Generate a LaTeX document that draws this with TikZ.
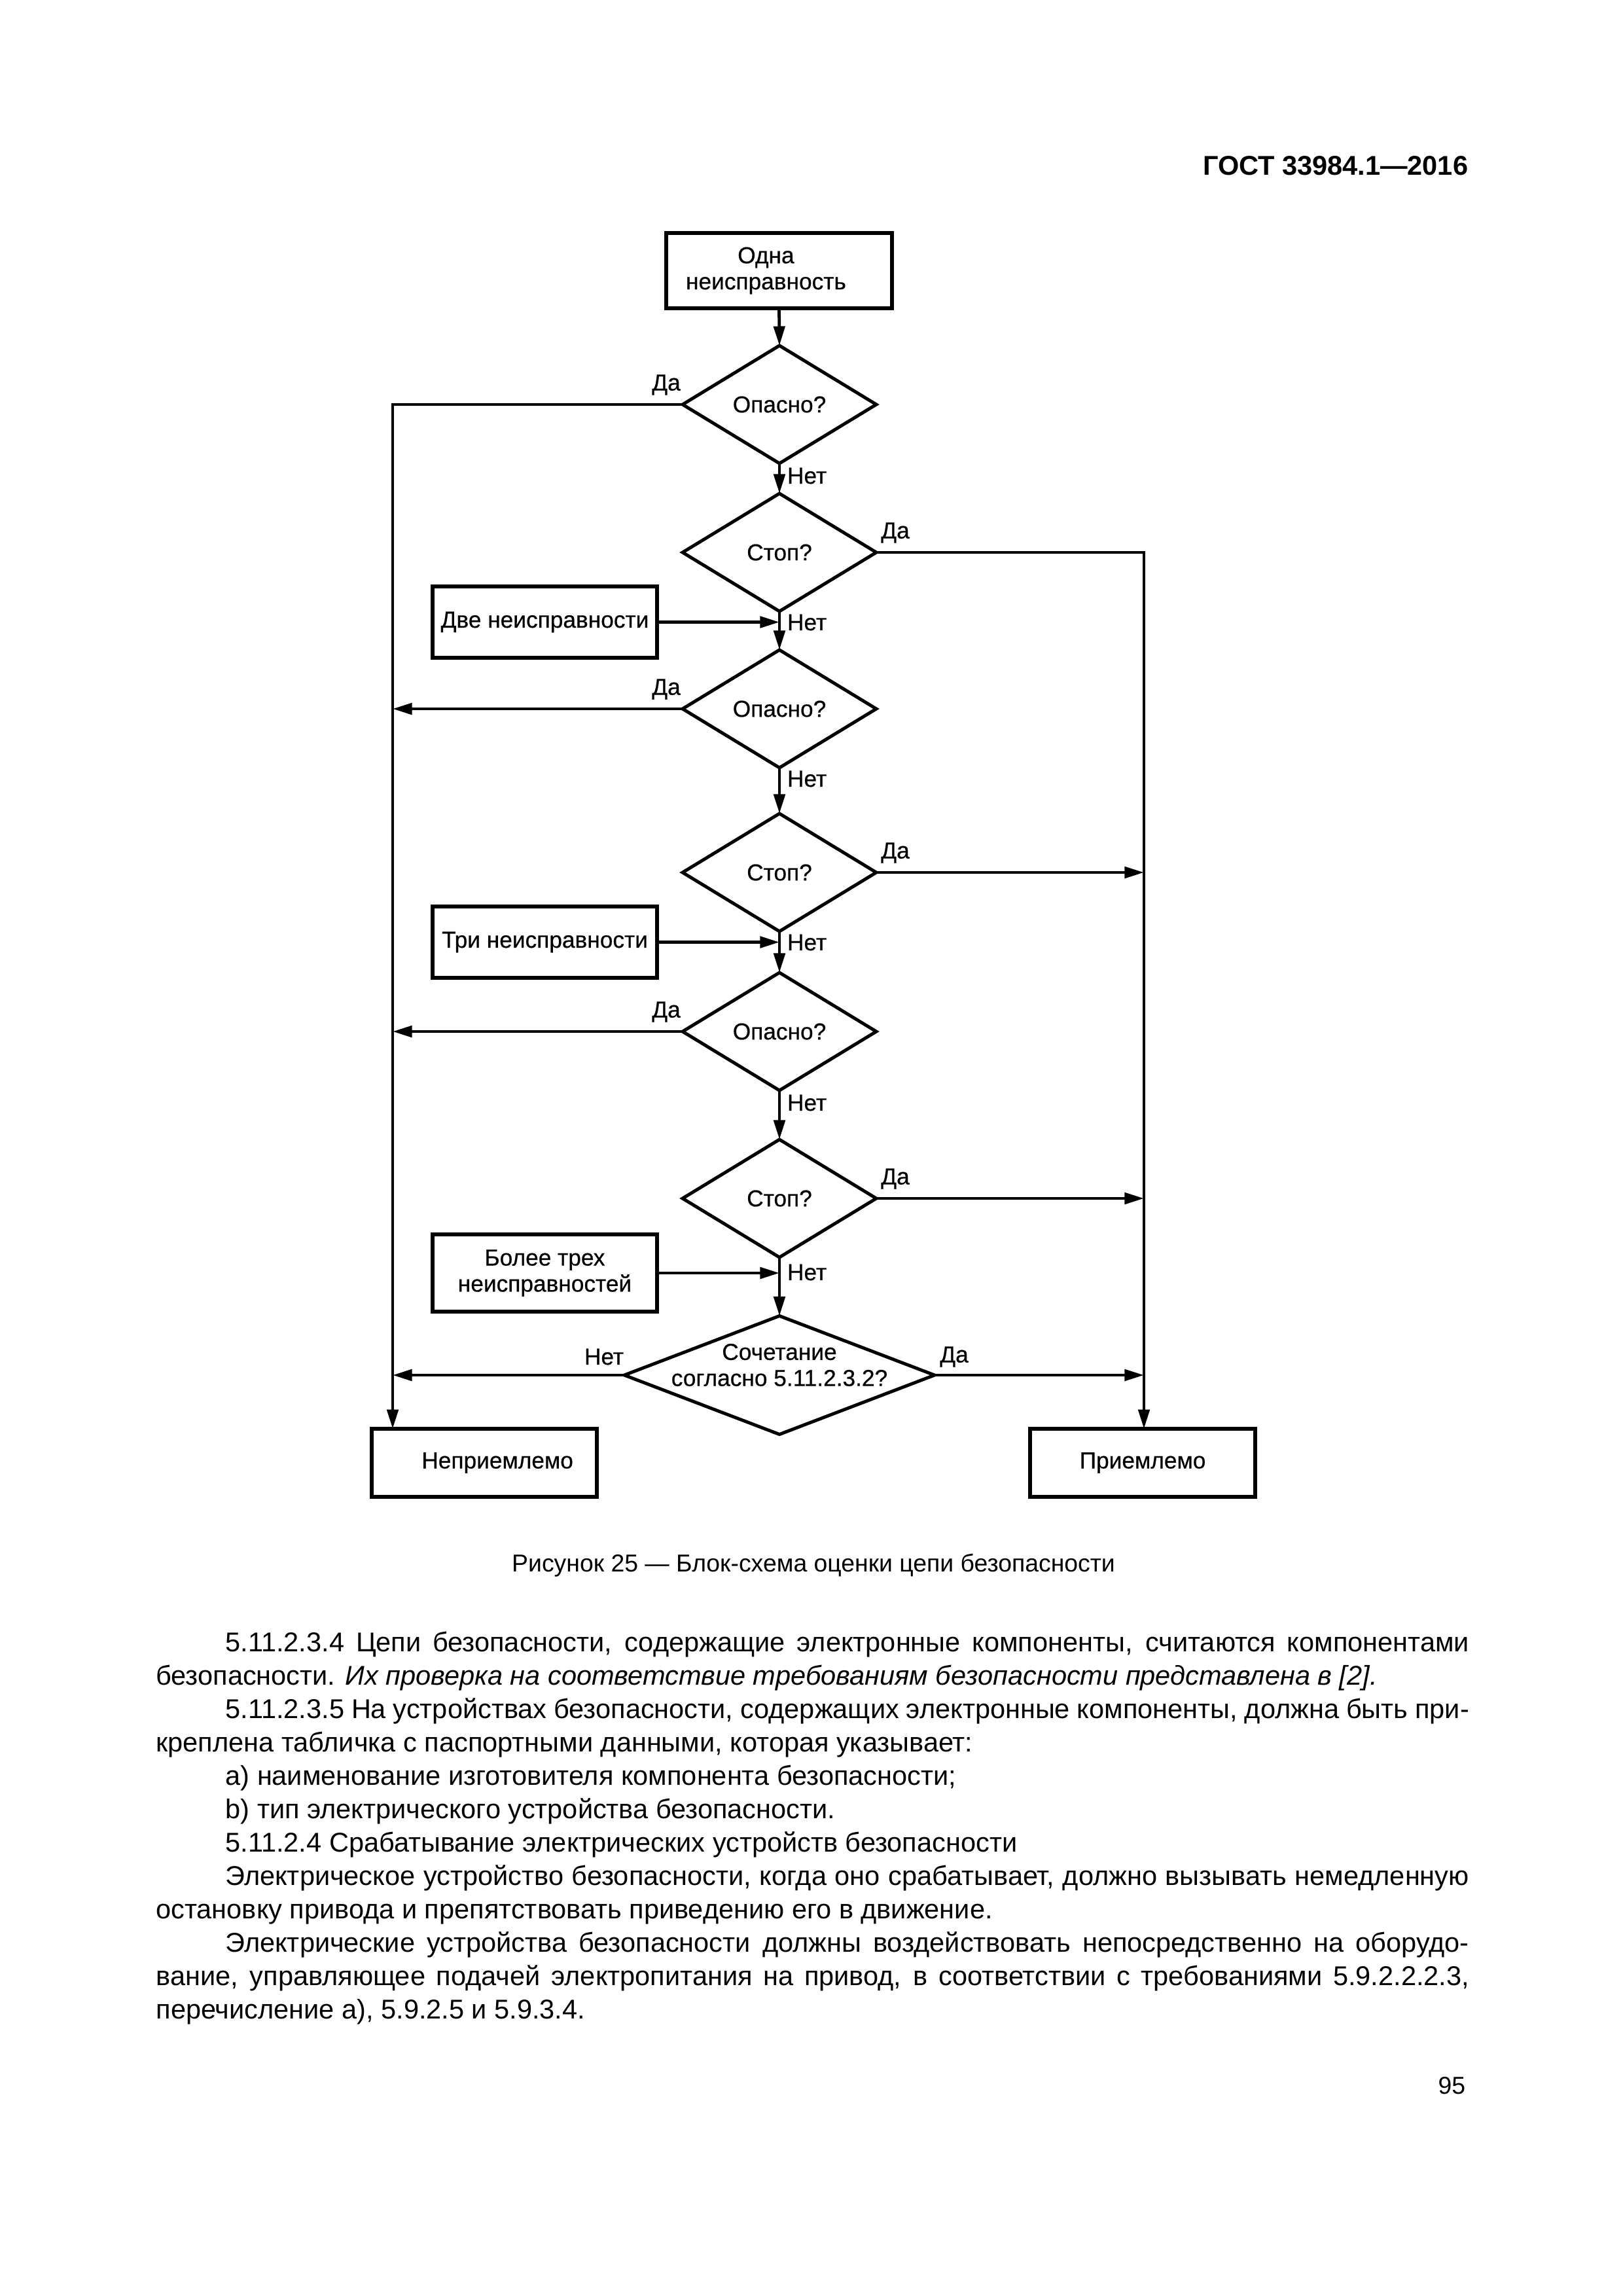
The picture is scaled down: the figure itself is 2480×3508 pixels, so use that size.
\documentclass[tikz,border=0pt]{standalone}
\usepackage{fontspec}
\setmainfont{Liberation Sans}
\newfontfamily\dfam[FakeBold=0.5]{Liberation Sans}
\usetikzlibrary{shapes.geometric,arrows.meta}
\def\pxu{0.0846667mm}
\tikzset{
 dfont/.style={font=\dfam\fontsize{8.5}{9.6}\selectfont},
 blk/.style={draw,line width=1.3pt,rectangle,inner sep=0pt,outer sep=0pt,align=center,dfont},
 dia/.style={draw,diamond,line width=1.2pt,inner sep=0pt,outer sep=0pt,minimum width={296*\pxu},minimum height={180*\pxu}},
 conn/.style={line width=1.15pt},
 arrw/.style={conn,-{Triangle[length=2.5mm,width=1.45mm]}},
 lbl/.style={dfont,inner sep=0pt,outer sep=0pt},
 body/.style={font=\fontsize{10}{12}\selectfont,inner sep=0pt,outer sep=0pt,anchor=base west},
}
\newcommand{\fullj}[1]{\makebox[169.88mm][s]{#1}}
\newcommand{\indj}[1]{\makebox[160.90mm][s]{#1}}
\begin{document}
\begin{tikzpicture}[x=0.0846667mm,y=-0.0846667mm]
\path[use as bounding box,fill=white] (0,0) rectangle (2480,3508);

% header
\node[inner sep=0pt,anchor=base east,font=\fontsize{10}{12}\selectfont\bfseries] (hdr) at (2244,267) {ГОСТ 33984.1—2016};

% boxes
\node[blk,minimum width={345*\pxu},minimum height={115*\pxu}] (one) at (1190.5,413.5) {Одна\hspace*{3.4mm}\\неисправность\hspace*{3.4mm}};
\node[blk,minimum width={343*\pxu},minimum height={109*\pxu}] (b2) at (832.5,950.5) {Две неисправности};
\node[blk,minimum width={343*\pxu},minimum height={109*\pxu}] (b3) at (832.5,1439.5) {Три неисправности};
\node[blk,minimum width={343*\pxu},minimum height={118*\pxu}] (b4) at (832.5,1945) {Более трех\\неисправностей};
\node[blk,minimum width={344*\pxu},minimum height={104*\pxu}] (nep) at (740,2235) {\hspace*{3.4mm}Неприемлемо};
\node[blk,minimum width={344*\pxu},minimum height={104*\pxu}] (pri) at (1746,2235) {Приемлемо};

% diamonds
\node[dia] (d1) at (1191,618) {};
\node[dia] (d2) at (1191,844) {};
\node[dia] (d3) at (1191,1083) {};
\node[dia] (d4) at (1191,1333) {};
\node[dia] (d5) at (1191,1576) {};
\node[dia] (d6) at (1191,1831) {};
\node[dia,minimum width={474*\pxu},minimum height={181*\pxu}] (d7) at (1191,2101) {};

\node[lbl] (t1) at (d1) {Опасно?};
\node[lbl] (t2) at (d2) {Стоп?};
\node[lbl] (t3) at (d3) {Опасно?};
\node[lbl] (t4) at (d4) {Стоп?};
\node[lbl] (t5) at (d5) {Опасно?};
\node[lbl] (t6) at (d6) {Стоп?};
\node[lbl,align=center] (t7) at (1191,2085.5) {Сочетание\\согласно 5.11.2.3.2?};

% bus coordinates
\coordinate (L) at (600,618);
\coordinate (R) at (1748,844);

% connectors
\draw[arrw] (one.south) -- (d1.north);
\draw[arrw] (d1.south) -- (d2.north);
\draw[arrw] (d2.south) -- (d3.north);
\draw[arrw] (d3.south) -- (d4.north);
\draw[arrw] (d4.south) -- (d5.north);
\draw[arrw] (d5.south) -- (d6.north);
\draw[arrw] (d6.south) -- (d7.north);
\draw[arrw] (b2.east) -- (b2.east -| d2.south);
\draw[arrw] (b3.east) -- (b3.east -| d4.south);
\draw[arrw] (b4.east) -- (b4.east -| d6.south);
\draw[arrw] (d1.west) -- (L) -- (L |- nep.north);
\draw[arrw] (d3.west) -- (d3.west -| L);
\draw[arrw] (d5.west) -- (d5.west -| L);
\draw[arrw] (d7.west) -- (d7.west -| L);
\draw[arrw] (d2.east) -- (R) -- (R |- pri.north);
\draw[arrw] (d4.east) -- (d4.east -| R);
\draw[arrw] (d6.east) -- (d6.east -| R);
\draw[arrw] (d7.east) -- (d7.east -| R);

% branch labels
\node[lbl] (y1) at (1018,588) {Да};
\node[lbl] (y3) at (1018,1053) {Да};
\node[lbl] (y5) at (1018,1546) {Да};
\node[lbl] (y2) at (1368,814) {Да};
\node[lbl] (y4) at (1368,1303) {Да};
\node[lbl] (y6) at (1368,1801) {Да};
\node[lbl,anchor=west] (n1) at (1203,727) {Нет};
\node[lbl,anchor=west] (n2) at (1203,951) {Нет};
\node[lbl,anchor=west] (n3) at (1203,1190) {Нет};
\node[lbl,anchor=west] (n4) at (1203,1440) {Нет};
\node[lbl,anchor=west] (n5) at (1203,1685) {Нет};
\node[lbl,anchor=west] (n6) at (1203,1944) {Нет};
\node[lbl] (n7) at (923,2073) {Нет};
\node[lbl] (y7) at (1458,2073) {Да};

% caption
\node[inner sep=0pt,anchor=base,font=\fontsize{9}{11}\selectfont] (cap) at (1243,2401) {Рисунок 25 — Блок-схема оценки цепи безопасности};

% body text
\node[body] (l1) at (344.6,2523.0) {\indj{5.11.2.3.4 Цепи безопасности, содержащие электронные компоненты, считаются компонентами}};
\node[body] (l2) at (238.5,2574.1) {безопасности. \textit{Их проверка на соответствие требованиям безопасности представлена в [2].}};
\node[body] (l3) at (344.6,2625.1) {\indj{5.11.2.3.5 На устройствах безопасности, содержащих электронные компоненты, должна быть при-}};
\node[body] (l4) at (238.5,2676.2) {креплена табличка с паспортными данными, которая указывает:};
\node[body] (l5) at (344.6,2727.2) {a) наименование изготовителя компонента безопасности;};
\node[body] (l6) at (344.6,2778.3) {b) тип электрического устройства безопасности.};
\node[body] (l7) at (344.6,2829.4) {5.11.2.4 Срабатывание электрических устройств безопасности};
\node[body] (l8) at (344.6,2880.4) {\indj{Электрическое устройство безопасности, когда оно срабатывает, должно вызывать немедленную}};
\node[body] (l9) at (238.5,2931.5) {остановку привода и препятствовать приведению его в движение.};
\node[body] (l10) at (344.6,2982.5) {\indj{Электрические устройства безопасности должны воздействовать непосредственно на оборудо-}};
\node[body] (l11) at (238.5,3033.6) {\fullj{вание, управляющее подачей электропитания на привод, в соответствии с требованиями 5.9.2.2.2.3,}};
\node[body] (l12) at (238.5,3084.7) {перечисление a), 5.9.2.5 и 5.9.3.4.};

% page number
\node[inner sep=0pt,anchor=base east,font=\fontsize{9}{11}\selectfont] (pg) at (2240,3199) {95};
\end{tikzpicture}
\end{document}
